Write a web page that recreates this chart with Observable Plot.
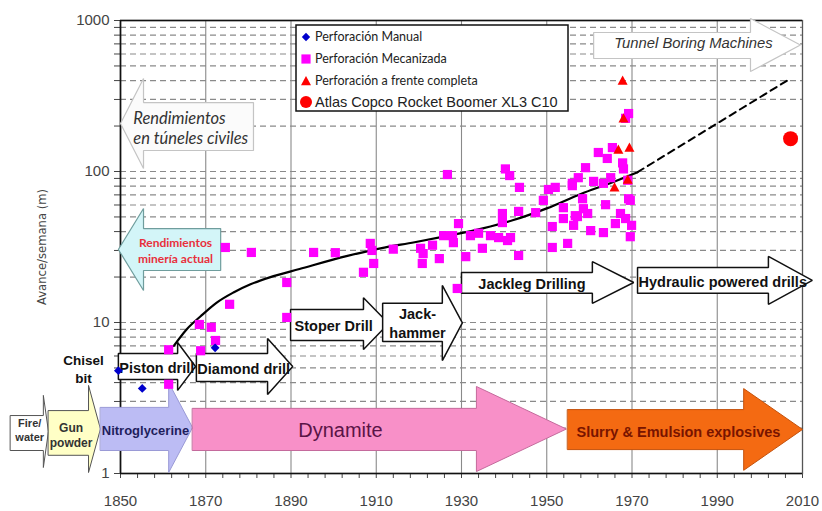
<!DOCTYPE html>
<html><head><meta charset="utf-8">
<script src="https://cdn.jsdelivr.net/npm/d3@7"></script>
<script src="https://cdn.jsdelivr.net/npm/@observablehq/plot@0.6"></script>
<style>body{margin:0;background:#fff;} #chart{width:822px;height:511px;}</style>
</head><body><div id="chart"></div>
<script>
// ---------- data ----------
const manualYear = [1849.5, 1855.1, 1872.2];
const manualVal  = [4.8, 3.66, 6.8];

const mechYear = [1861.3,1861.3,1868.8,1868.5,1871.3,1872.3,1874.6,1875.6,1880.7,1889.0,1889.0,1895.3,1900.4,1907.0,1908.6,1909.0,1909.4,1914.0,1920.4,1920.8,1921.0,1923.2,1924.8,1925.8,1926.7,1927.9,1928.1,1929.0,1929.3,1931.0,1932.1,1934.0,1934.9,1936.8,1938.7,1939.6,1939.6,1940.3,1940.8,1941.3,1941.5,1943.4,1943.4,1943.6,1947.4,1949.2,1950.4,1951.3,1951.3,1952.0,1953.9,1953.9,1954.9,1956.0,1956.0,1956.3,1956.7,1957.2,1957.4,1958.4,1958.6,1959.1,1959.6,1960.3,1961.0,1962.1,1963.3,1963.3,1963.8,1964.2,1965.0,1965.4,1966.1,1967.3,1967.8,1968.0,1968.5,1968.5,1969.0,1969.2,1969.2,1969.6,1969.6,1969.9];
const mechVal  = [3.9,6.6,6.5,9.7,9.3,7.6,31.4,13.2,29.1,18.4,10.8,29.1,29.0,21.5,33.4,30.0,24.6,30.6,31.0,24.6,28.6,32.5,26.5,37.6,95.5,37.6,33.8,16.8,45.2,27.3,37.6,39.0,31.0,37.6,36.5,52.7,45.9,104,34.9,94,36.5,27.8,54.4,78.5,53.4,64.4,76,43.2,31.4,78.5,48.8,57.6,33.4,83.5,80.6,44,51,50.3,91,66,56.7,106,52.7,40.6,86,133.6,83.5,39.4,60.3,122,91,144,45.2,52.7,114,104,225,48.8,87.5,242,66,64.4,37,44];

const fullYear = [1967.8, 1968.0, 1966.8, 1969.4, 1969.0, 1965.9];
const fullVal  = [400, 225, 140, 144, 88.6, 78.5];

const atlasYear = [2007.2];
const atlasVal  = [165];

const trendYear = [1862.5,1865.5,1868.8,1872.5,1876.5,1880.5,1885,1892,1903,1911,1919,1927,1935,1942,1950,1958,1965,1971.3];
const trendVal  = [7.0,9.0,11.0,13.5,15.8,17.9,19.9,22.6,27.5,31,34,37.6,42,47.5,57,71,84,99];
const extrapYear = [1971.3, 2007.2];
const extrapVal  = [99, 413];

const explosiveNames = ["Fire/\nwater","Gun\npowder","Nitroglycerine","Dynamite","Slurry & Emulsion explosives"];
const explosiveStart = [1824.2, 1833.1, 1845.3, 1866.9, 1954.9];
const explosiveEnd   = [1833.1, 1845.3, 1866.9, 1954.6, 2010.0];

const drillNames = ["Piston drill","Diamond drill","Stoper Drill","Jack-\nhammer","Jackleg Drilling","Hydraulic powered drills"];
const drillStart = [1849.5, 1867.8, 1889.9, 1911.5, 1930.0, 1971.3];
const drillEnd   = [1867.6, 1890.4, 1912.9, 1930.2, 1970.4, 2012.3];

const xTickLabels = [1850,1870,1890,1910,1930,1950,1970,1990,2010];
const yTickLabels = [1,10,100,1000];

// ---------- layout (arrow geometry, in scale units) ----------
const explosiveLayout = [
  {head:1831.9, b0:1.42, b1:2.42, h0:1.096, h1:3.29, fill:"#ffffff", stroke:"#555", text:"#333", fs:11, bold:true, anchor:"middle", tx:1828.7, ty:1.96, lh:1.3},
  {head:1842.5, b0:1.32, b1:2.61, h0:1.015, h1:3.83, fill:"#ffffc6", stroke:"#555", text:"#333", fs:12, bold:true, anchor:"middle", tx:1838.4, ty:1.81, lh:1.3},
  {head:1861.3, b0:1.42, b1:2.74, h0:1.015, h1:4.0, fill:"#bcbcf4", stroke:"#9a9ad6", text:"#1e1e5c", fs:13, bold:true, anchor:"start", tx:1845.6, ty:1.93, lh:1},
  {head:1933.5, b0:1.42, b1:2.70, h0:1.03, h1:3.77, fill:"#f890c8", stroke:"#c46a9c", text:"#5a1446", fs:20, bold:false, anchor:"middle", tx:1901.6, ty:1.93, lh:1},
  {head:1996.2, b0:1.44, b1:2.65, h0:1.05, h1:3.65, fill:"#f46a12", stroke:"#c4520c", text:"#781400", fs:14.5, bold:true, anchor:"middle", tx:1980.9, ty:1.88, lh:1}
];
const drillLayout = [
  {head:1863.4, b0:4.19, b1:6.23, h0:3.55, h1:7.37, anchor:"start", dx:1},
  {head:1884.5, b0:4.07, b1:6.23, h0:3.34, h1:7.84, anchor:"start", dx:1},
  {head:1907.0, b0:7.6,  b1:12.2, h0:6.63, h1:14.6, anchor:"start", dx:4},
  {head:1925.5, b0:7.48, b1:13.4, h0:5.6,  h1:17.6, anchor:"middle", dx:5},
  {head:1960.7, b0:15.6, b1:21.4, h0:13.4, h1:25.3, anchor:"middle", dx:5},
  {head:2002.0, b0:15.6, b1:23.1, h0:13.2, h1:27.4, anchor:"start", dx:1}
];
const sideArrows = [
  {x0:1881.2, head:1855.4, x2:1850.0, b0:137.7, b1:286, h0:104.7, h1:413, fill:"#fbfbfb", stroke:"#c4c4c4"},
  {x0:1873.5, head:1855.4, x2:1849.5, b0:22.1, b1:41.9, h0:16.3, h1:56.9, fill:"#d3f5f8", stroke:"#6f9d9d"},
  {x0:1961.0, head:1997.8, x2:2009.5, b0:560, b1:833, h0:459, h1:1031, fill:"#ffffff", stroke:"#c4c4c4"}
];

function arrowPts(x0, x1, x2, b0, b1, h0, h1) {
  const ym = Math.sqrt(h0 * h1);
  return [[x0,b1],[x1,b1],[x1,h1],[x2,ym],[x1,h0],[x1,b0],[x0,b0]].map(([x,y]) => ({x, y}));
}

// custom symbols (r = sqrt(size/PI))
const symSquare = {draw(c, s){const r=Math.sqrt(s/Math.PI); c.moveTo(-r,-r); c.lineTo(r,-r); c.lineTo(r,r); c.lineTo(-r,r); c.closePath();}};
const symDiamond = {draw(c, s){const r=Math.sqrt(s/Math.PI); c.moveTo(0,-r); c.lineTo(r,0); c.lineTo(0,r); c.lineTo(-r,0); c.closePath();}};
const symTriangle = {draw(c, s){const r=Math.sqrt(s/Math.PI); c.moveTo(0,-r); c.lineTo(r,r*0.85); c.lineTo(-r,r*0.85); c.closePath();}};
const symCircle = {draw(c, s){const r=Math.sqrt(s/Math.PI); c.moveTo(r,0); c.arc(0,0,r,0,2*Math.PI);}};

const zip = (xs, ys) => xs.map((x, i) => ({x, y: ys[i]}));

const xTicksAll = d3.range(1850, 2011, 4);
const yTicksAll = [1,2,3,4,5,6,7,8,9,10,20,30,40,50,60,70,80,90,100,200,300,400,500,600,700,800,900,1000];
const yGrid = yTicksAll.filter(v => v > 1 && v < 1000);
const xGrid = xTickLabels.filter(v => v > 1850 && v < 2010);

const SANS = "'Liberation Sans', Arial, sans-serif";
const CAL = "Lato, 'Open Sans', sans-serif";

const marks = [];
marks.push(Plot.ruleY(yGrid, {stroke:"#8a8a8a", strokeWidth:1.2, strokeDasharray:"6,4"}));
marks.push(Plot.ruleX(xGrid, {stroke:"#8a8a8a", strokeWidth:1.1}));
marks.push(Plot.frame({stroke:"#555", strokeWidth:1.3}));
marks.push(Plot.ruleY([1000], {stroke:"#111", strokeWidth:1.5}));
marks.push(Plot.ruleX([1850], {stroke:"#111", strokeWidth:1.6}));
marks.push(Plot.ruleY([1], {stroke:"#111", strokeWidth:1.6}));

// explosive arrows
explosiveNames.forEach((name, i) => {
  const L = explosiveLayout[i];
  marks.push(Plot.line(arrowPts(explosiveStart[i], L.head, explosiveEnd[i], L.b0, L.b1, L.h0, L.h1),
    {x:"x", y:"y", curve:"linear-closed", fill:L.fill, stroke:L.stroke, strokeWidth:1, strokeLinejoin:"miter"}));
});
explosiveNames.forEach((name, i) => {
  const L = explosiveLayout[i];
  marks.push(Plot.text([{x:L.tx, y:L.ty, t:name}], {x:"x", y:"y", text:"t", fill:L.text, fontSize:L.fs,
    fontWeight:L.bold ? "bold" : "normal", fontFamily:SANS, textAnchor:L.anchor, lineHeight:L.lh}));
});

// drill arrows
drillNames.forEach((name, i) => {
  const L = drillLayout[i];
  marks.push(Plot.line(arrowPts(drillStart[i], L.head, drillEnd[i], L.b0, L.b1, L.h0, L.h1),
    {x:"x", y:"y", curve:"linear-closed", fill:"#ffffff", stroke:"#111", strokeWidth:1.5, strokeLinejoin:"miter"}));
  const tx = L.anchor === "start" ? drillStart[i] : (drillStart[i] + L.head) / 2;
  marks.push(Plot.text([{x:tx, y:Math.sqrt(L.b0*L.b1), t:name}], {x:"x", y:"y", text:"t", dx:L.dx, fill:"#111",
    fontSize:14.5, fontWeight:"bold", fontFamily:SANS, textAnchor:L.anchor, lineHeight:1.3}));
});

// side arrows
sideArrows.forEach(A => {
  marks.push(Plot.line(arrowPts(A.x0, A.head, A.x2, A.b0, A.b1, A.h0, A.h1),
    {x:"x", y:"y", curve:"linear-closed", fill:A.fill, stroke:A.stroke, strokeWidth:1.2, strokeLinejoin:"miter"}));
});
marks.push(Plot.text([{x:1853.0, y:195.6, t:"Rendimientos\nen túneles civiles"}], {x:"x", y:"y", text:"t",
  fill:"#333", fontSize:16.5, fontStyle:"italic", fontFamily:CAL, textAnchor:"start", lineHeight:1.25}));
marks.push(Plot.text([{x:1862.9, y:30.2, t:"Rendimientos\nminería actual"}], {x:"x", y:"y", text:"t",
  fill:"#e8303c", fontSize:12, fontWeight:"bold", fontFamily:CAL, textAnchor:"middle", lineHeight:1.3}));
marks.push(Plot.text([{x:1984.4, y:704, t:"Tunnel Boring Machines"}], {x:"x", y:"y", text:"t",
  fill:"#333", fontSize:14.8, fontStyle:"italic", fontFamily:SANS, textAnchor:"middle"}));
marks.push(Plot.text([{x:1841.3, y:5.0, t:"Chisel\nbit"}], {x:"x", y:"y", text:"t",
  fill:"#111", fontSize:13.5, fontWeight:"bold", fontFamily:SANS, textAnchor:"middle", lineHeight:1.4}));

// trend lines
marks.push(Plot.line(zip(trendYear, trendVal), {x:"x", y:"y", curve:"monotone-x", stroke:"#000", strokeWidth:2.2}));
marks.push(Plot.line(zip(extrapYear, extrapVal), {x:"x", y:"y", stroke:"#000", strokeWidth:2, strokeDasharray:"7,5"}));

// points
marks.push(Plot.dot(zip(mechYear, mechVal), {x:"x", y:"y", symbol:symSquare, r:4.6, fill:"#ff00ff", stroke:"none"}));
marks.push(Plot.dot(zip(manualYear, manualVal), {x:"x", y:"y", symbol:symDiamond, r:4.4, fill:"#0000cc", stroke:"none"}));
marks.push(Plot.dot(zip(fullYear, fullVal), {x:"x", y:"y", symbol:symTriangle, r:5, fill:"#ff0000", stroke:"none"}));
marks.push(Plot.dot(zip(atlasYear, atlasVal), {x:"x", y:"y", symbol:symCircle, r:7.5, fill:"#ff0000", stroke:"none"}));

// y label
marks.push(Plot.text(["Avance/semana (m)"], {frameAnchor:"left", dx:-78, rotate:-90, text:d=>d,
  textAnchor:"middle", fill:"#444", fontSize:11.6, fontFamily:"'DejaVu Sans', sans-serif"}));

const plot = Plot.plot({
  width: 822, height: 511,
  marginLeft: 120, marginRight: 20, marginTop: 20, marginBottom: 38,
  style: {fontFamily: SANS, fontSize: "15px", color: "#444", background: "#fff", overflow: "visible"},
  x: {domain: [1850, 2010], ticks: xTicksAll, tickSize: 5, tickPadding: 17,
      tickFormat: d => xTickLabels.includes(d) ? String(d) : "", label: null},
  y: {type: "log", domain: [1, 1000], ticks: yTicksAll, tickSize: 6, tickPadding: 5,
      tickFormat: d => yTickLabels.includes(d) ? String(d) : "", label: null},
  marks
});
document.getElementById("chart").appendChild(plot);

// legend
const svg = d3.select(plot);
const lg = svg.append("g").attr("text-anchor", "start");
lg.append("rect").attr("x", 296).attr("y", 25).attr("width", 272).attr("height", 86)
  .attr("fill", "#fff").attr("stroke", "#111").attr("stroke-width", 1.5);
const entries = [
  {t:"Perforación Manual", sym:symDiamond, r:4.2, c:"#0000cc", f:CAL, fs:12.5},
  {t:"Perforación Mecanizada", sym:symSquare, r:4.6, c:"#ff00ff", f:CAL, fs:12.5},
  {t:"Perforación a frente completa", sym:symTriangle, r:5, c:"#ff0000", f:CAL, fs:12.5},
  {t:"Atlas Copco Rocket Boomer XL3 C10", sym:symCircle, r:6, c:"#ff0000", f:SANS, fs:14.5}
];
const ly = [37, 59, 81, 102];
entries.forEach((e, i) => {
  lg.append("path").attr("transform", `translate(306,${ly[i]})`)
    .attr("d", d3.symbol(e.sym, Math.PI * e.r * e.r)()).attr("fill", e.c);
  lg.append("text").attr("x", 315).attr("y", ly[i]).attr("dy", "0.35em").attr("text-anchor", "start")
    .attr("font-family", e.f).attr("font-size", e.fs).attr("fill", "#222").text(e.t);
});
</script>
</body></html>
